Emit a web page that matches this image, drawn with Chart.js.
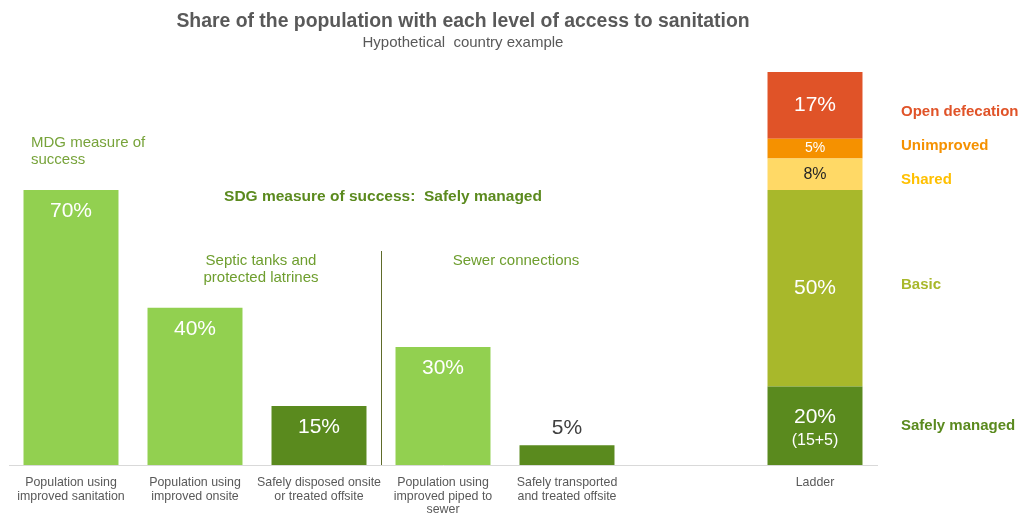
<!DOCTYPE html>
<html>
<head>
<meta charset="utf-8">
<script src="https://cdn.jsdelivr.net/npm/chart.js@4"></script>
<style>
  html, body { margin: 0; padding: 0; background: #fff; }
  #wrap { width: 1024px; height: 513px; }
</style>
</head>
<body>
<div id="wrap"><canvas id="sanChart"></canvas></div>
<script>
const categories = [
  ['Population using', 'improved sanitation'],
  ['Population using', 'improved onsite'],
  ['Safely disposed onsite', 'or treated offsite'],
  ['Population using', 'improved piped to', 'sewer'],
  ['Safely transported', 'and treated offsite'],
  '',
  'Ladder'
];
const improvedVals = [70, 40, null, 30, null, null, null];
const safelyVals = [null, null, 15, null, 5, null, 20];
const basicVals = [null, null, null, null, null, null, 50];
const sharedVals = [null, null, null, null, null, null, 8];
const unimprovedVals = [null, null, null, null, null, null, 5];
const openVals = [null, null, null, null, null, null, 17];

const LADDER = 6;
const FONT = '"Liberation Sans", Arial, sans-serif';

// text drawn on top: titles, notes, bar values, ladder labels
const annotations = {
  id: 'annotations',
  afterDatasetsDraw(chart) {
    const ctx = chart.ctx;
    const y = chart.scales.y;
    ctx.save();
    ctx.textAlign = 'center';
    ctx.textBaseline = 'middle';

    ctx.fillStyle = '#595959';
    ctx.font = 'bold 19.4px ' + FONT;
    ctx.fillText('Share of the population with each level of access to sanitation', 463, 22);
    ctx.font = '15px ' + FONT;
    ctx.fillText('Hypothetical  country example', 463, 43);

    ctx.textAlign = 'left';
    ctx.fillStyle = '#77A33A';
    ctx.font = '15px ' + FONT;
    ctx.fillText('MDG measure of', 31, 143);
    ctx.fillText('success', 31, 160);

    ctx.textAlign = 'center';
    ctx.fillStyle = '#5B8A1E';
    ctx.font = 'bold 15.5px ' + FONT;
    ctx.fillText('SDG measure of success:  Safely managed', 383, 197);

    ctx.fillStyle = '#6E9E2E';
    ctx.font = '15px ' + FONT;
    ctx.fillText('Septic tanks and', 261, 261);
    ctx.fillText('protected latrines', 261, 278);
    ctx.fillText('Sewer connections', 516, 261);

    // divider between onsite and sewer groups
    ctx.strokeStyle = '#5E6B2A';
    ctx.lineWidth = 1;
    ctx.beginPath();
    ctx.moveTo(381.5, 251);
    ctx.lineTo(381.5, y.getPixelForValue(0));
    ctx.stroke();

    // values on the bars
    chart.data.datasets.forEach((ds, di) => {
      const meta = chart.getDatasetMeta(di);
      ds.data.forEach((v, i) => {
        if (v == null) return;
        const el = meta.data[i];
        ctx.textAlign = 'center';
        ctx.textBaseline = 'middle';
        if (i === LADDER) {
          const cy = (el.y + el.base) / 2;
          ctx.fillStyle = ds.labelColor;
          ctx.font = ds.labelSize + 'px ' + FONT;
          if (ds.label === 'Safely managed') {
            ctx.fillText(v + '%', el.x, cy - 8);
            ctx.font = '16px ' + FONT;
            ctx.fillText('(15+5)', el.x, cy + 15);
          } else {
            ctx.fillText(v + '%', el.x, cy);
          }
          // legend text to the right of the ladder
          ctx.textAlign = 'left';
          ctx.font = 'bold 15px ' + FONT;
          ctx.fillStyle = ds.sideColor;
          ctx.fillText(ds.label, 901, cy + ds.sideShift);
        } else {
          ctx.font = '21px ' + FONT;
          if (v < 10) {
            ctx.fillStyle = '#404040';
            ctx.fillText(v + '%', el.x, el.y - 17);
          } else {
            ctx.fillStyle = '#ffffff';
            ctx.fillText(v + '%', el.x, el.y + 21);
          }
        }
      });
    });
    ctx.restore();
  }
};

new Chart(document.getElementById('sanChart'), {
  type: 'bar',
  data: {
    labels: categories,
    datasets: [
      { label: 'Safely managed', data: safelyVals, backgroundColor: '#5A8A1E', labelColor: '#ffffff', labelSize: 21, sideColor: '#5A8A1E', sideShift: 0 },
      { label: 'Improved', data: improvedVals, backgroundColor: '#92D050', labelColor: '#ffffff', labelSize: 21 },
      { label: 'Basic', data: basicVals, backgroundColor: '#A8B82B', labelColor: '#ffffff', labelSize: 21, sideColor: '#A8B82B', sideShift: -3 },
      { label: 'Shared', data: sharedVals, backgroundColor: '#FFD966', labelColor: '#262626', labelSize: 16, sideColor: '#FFC000', sideShift: 6 },
      { label: 'Unimproved', data: unimprovedVals, backgroundColor: '#F59100', labelColor: '#ffffff', labelSize: 14, sideColor: '#F59100', sideShift: -3 },
      { label: 'Open defecation', data: openVals, backgroundColor: '#E05328', labelColor: '#ffffff', labelSize: 21, sideColor: '#E05328', sideShift: 6 }
    ]
  },
  options: {
    responsive: true,
    maintainAspectRatio: false,
    animation: false,
    layout: { padding: { left: 9, right: 147, top: 72, bottom: 0 } },
    datasets: { bar: { categoryPercentage: 1, barPercentage: 0.766, borderWidth: 0 } },
    plugins: {
      legend: { display: false },
      tooltip: { enabled: false }
    },
    scales: {
      x: {
        stacked: true,
        grid: { display: false },
        border: { display: true, color: '#D9D9D9', width: 1 },
        afterFit(scale) { scale.height = 48; },
        ticks: {
          color: '#595959',
          font: { family: FONT, size: 12.4, lineHeight: 1.09 },
          padding: 3,
          maxRotation: 0,
          autoSkip: false
        }
      },
      y: {
        stacked: true,
        display: false,
        min: 0,
        max: 100
      }
    }
  },
  plugins: [annotations]
});
</script>
</body>
</html>
